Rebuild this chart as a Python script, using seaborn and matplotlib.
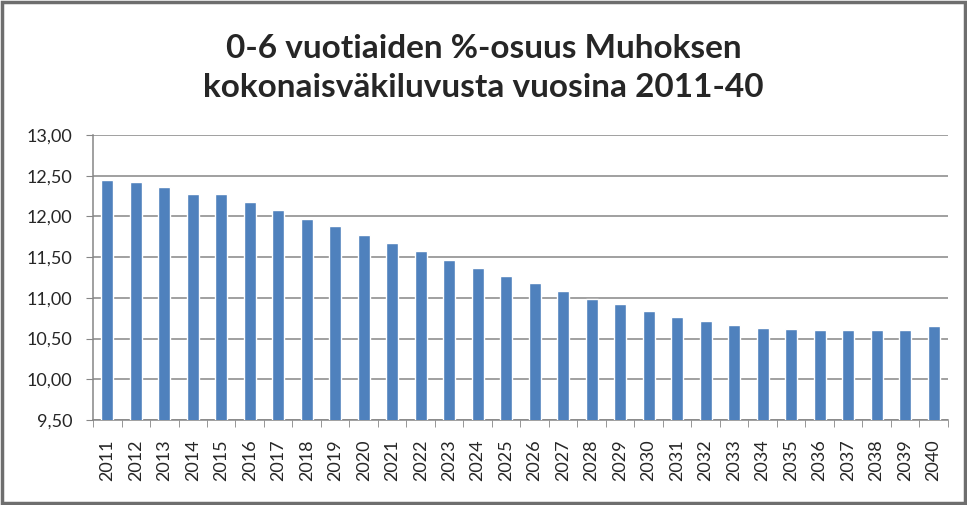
import matplotlib.pyplot as plt
import matplotlib as mpl
from matplotlib.ticker import FuncFormatter, MultipleLocator
from matplotlib.patches import Rectangle
import pandas as pd
import seaborn as sns
import numpy as np

sns.set_style("white")
plt.rcParams['font.family'] = ['Lato', 'DejaVu Sans']
mpl.rcParams['axes.unicode_minus'] = False

years = [str(y) for y in range(2011, 2041)]
share = [12.45, 12.42, 12.36, 12.28, 12.27, 12.18, 12.08, 11.97, 11.88, 11.77,
         11.67, 11.57, 11.47, 11.37, 11.27, 11.18, 11.09, 10.99, 10.92, 10.84,
         10.77, 10.72, 10.67, 10.63, 10.62, 10.61, 10.60, 10.61, 10.61, 10.65]
title = "0-6 vuotiaiden %-osuus Muhoksen\nkokonaisväkiluvusta vuosina 2011-40"

df = pd.DataFrame({"Vuosi": years, "Osuus": share})

fig = plt.figure(figsize=(9.67, 5.05), dpi=100)
ax = fig.add_axes([0.0962, 0.1683, 0.884, 0.5644])

sns.barplot(data=df, x="Vuosi", y="Osuus", color="#4F81BD", width=0.42,
            saturation=1, ax=ax, zorder=3)

ax.set_ylim(9.5, 13.0)
ax.set_xlim(-0.5, len(years) - 0.5)
ax.yaxis.set_major_locator(MultipleLocator(0.5))
ax.yaxis.set_major_formatter(FuncFormatter(lambda v, p: f"{v:.2f}".replace(".", ",")))
ax.yaxis.grid(True, color="#868686", linewidth=1.1, zorder=0)
ax.set_axisbelow(True)
ax.set_xlabel("")
ax.set_ylabel("")

for s in ["top", "right"]:
    ax.spines[s].set_visible(False)
for s in ["left", "bottom"]:
    ax.spines[s].set_color("#868686")
    ax.spines[s].set_linewidth(1.1)

ax.tick_params(axis="y", left=True, length=5, color="#868686", labelsize=13, pad=10)
ax.tick_params(axis="x", which="major", length=0, labelsize=13, pad=14, labelrotation=90)
ax.set_xticks(np.arange(-0.5, len(years)), minor=True)
ax.tick_params(axis="x", which="minor", bottom=True, length=5, color="#868686")

fig.text(0.5, 0.865, title, ha="center", va="center", fontsize=24,
         fontweight="bold", linespacing=1.42)

fig.patches.append(Rectangle((0.002, 0.003), 0.996, 0.994, transform=fig.transFigure,
                             fill=False, edgecolor="#6e6e6e", linewidth=2.5))

fig.savefig("out.png", dpi=100)
